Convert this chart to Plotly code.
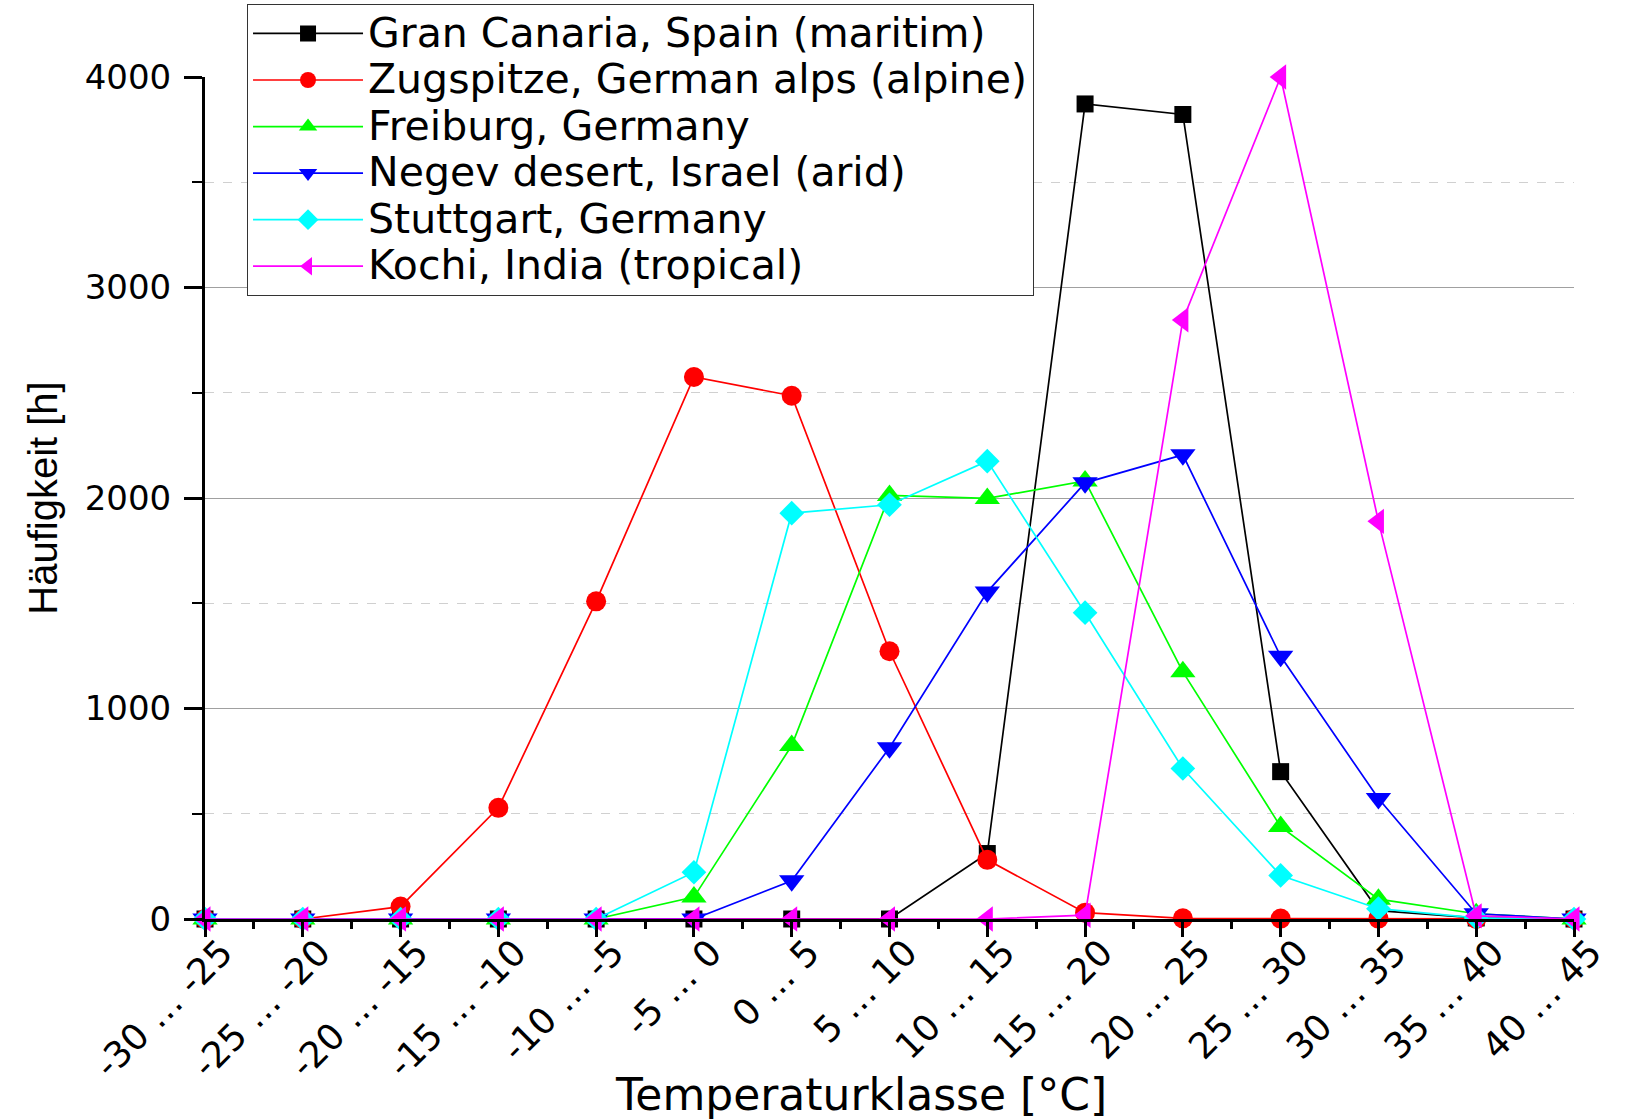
import plotly.graph_objects as go

# Temperature classes (°C)
categories = [
    "-30 … -25", "-25 … -20", "-20 … -15", "-15 … -10", "-10 … -5",
    "-5 … 0", "0 … 5", "5 … 10", "10 … 15", "15 … 20",
    "20 … 25", "25 … 30", "30 … 35", "35 … 40", "40 … 45",
]

# Hours per temperature class for each site
gran_canaria = [0, 0, 0, 0, 0, 0, 0, 0, 311, 3872, 3822, 700, 40, 5, 0]
zugspitze = [0, 0, 59, 528, 1509, 2575, 2486, 1272, 281, 30, 3, 2, 2, 0, 0]
freiburg = [0, 0, 0, 0, 0, 104, 824, 2012, 1998, 2081, 1174, 439, 94, 25, 0]
negev = [0, 0, 0, 0, 0, 0, 182, 814, 1554, 2072, 2205, 1248, 572, 25, 0]
stuttgart = [0, 0, 0, 0, 0, 222, 1928, 1968, 2175, 1455, 715, 207, 49, 5, 0]
kochi = [0, 0, 0, 0, 0, 0, 0, 0, 0, 18, 2846, 4000, 1889, 15, 0]

series_names = [
    "Gran Canaria, Spain (maritim)",
    "Zugspitze, German alps (alpine)",
    "Freiburg, Germany",
    "Negev desert, Israel (arid)",
    "Stuttgart, Germany",
    "Kochi, India (tropical)",
]
series_values = [gran_canaria, zugspitze, freiburg, negev, stuttgart, kochi]
series_colors = ["#000000", "#ff0000", "#00ff00", "#0000ff", "#00ffff", "#ff00ff"]
series_symbols = ["square", "circle", "triangle-up", "triangle-down", "diamond", "triangle-left"]
series_sizes = [17, 20, 22, 22, 19, 22]

x_pos = list(range(len(categories)))

fig = go.Figure()
for name, vals, col, sym, sz in zip(series_names, series_values, series_colors,
                                     series_symbols, series_sizes):
    fig.add_trace(go.Scatter(
        x=x_pos, y=vals, name="<span style='font-size:41px'>" + name + "</span>",
        mode="lines+markers",
        line=dict(color=col, width=1.7),
        marker=dict(symbol=sym, size=sz, color=col, line=dict(width=0)),
        cliponaxis=False,
    ))

fig.update_layout(
    width=1629, height=1120,
    margin=dict(l=205, r=55, t=77, b=201, autoexpand=False),
    paper_bgcolor="white", plot_bgcolor="white",
    font=dict(family="DejaVu Sans", color="black"),
    showlegend=True,
    legend=dict(
        x=0.0307, y=1.0865, xanchor="left", yanchor="top",
        bgcolor="white", bordercolor="#333333", borderwidth=1,
        font=dict(family="DejaVu Sans", size=33.5, color="black"),
        itemwidth=110, tracegroupgap=0,
    ),
)

fig.update_xaxes(
    range=[0, 14], tickmode="array", tickvals=x_pos, ticktext=categories,
    tickangle=-45, tickfont=dict(family="DejaVu Sans", size=36),
    ticklabelshift=17, ticklabelstandoff=-20,
    showline=True, linecolor="black", linewidth=3,
    ticks="outside", ticklen=15, tickwidth=3, tickcolor="black",
    showgrid=False, zeroline=False, automargin=False,
    minor=dict(ticks="outside", ticklen=7, tickwidth=3, tickcolor="black", dtick=0.5, tick0=0, showgrid=False),
    title=dict(text="Temperaturklasse [°C]&nbsp;&nbsp;&nbsp;&nbsp;",
               font=dict(family="DejaVu Sans", size=44), standoff=10),
)

fig.update_yaxes(
    range=[0, 4000], tickmode="linear", tick0=0, dtick=1000,
    tickfont=dict(family="DejaVu Sans", size=34),
    showline=True, linecolor="black", linewidth=3,
    ticks="outside", ticklen=18, tickwidth=3, tickcolor="black",
    ticklabelstandoff=6,
    showgrid=True, gridcolor="#a0a0a0", gridwidth=1,
    zeroline=False, automargin=False,
    minor=dict(ticks="outside", ticklen=10, tickwidth=2, tickcolor="black", dtick=500,
               showgrid=True, gridcolor="#d0d0d0", griddash="dash", gridwidth=1),
    title=dict(text="Häufigkeit [h]", font=dict(family="Liberation Sans", size=40), standoff=15),
)

fig.write_html("out.html")
